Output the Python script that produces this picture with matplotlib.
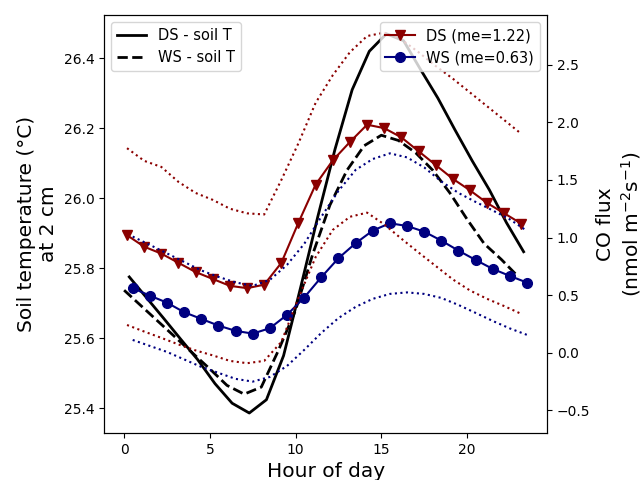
import numpy as np
import matplotlib
matplotlib.use("Agg")
import matplotlib.pyplot as plt

# hour of day for each series (different averaging offsets)
hrs_ds_t = np.arange(24) + 0.3
hrs_ws_t = np.arange(24) + 0.0
hrs_ds_f = np.arange(24) + 0.17
hrs_ws_f = np.arange(24) + 0.5

# soil temperature at 2 cm
ds_soil_t = [25.775, 25.716, 25.657, 25.597, 25.538, 25.47, 25.414, 25.386,
             25.424, 25.55, 25.746, 25.948, 26.14, 26.31, 26.42, 26.47,
             26.45, 26.367, 26.286, 26.195, 26.107, 26.024, 25.93, 25.847]
ws_soil_t = [25.737, 25.692, 25.647, 25.602, 25.557, 25.512, 25.465, 25.44,
             25.46, 25.565, 25.68, 25.84, 25.98, 26.08, 26.15, 26.18,
             26.165, 26.13, 26.08, 26.015, 25.94, 25.87, 25.825, 25.775]

# CO flux, mean and upper/lower bounds
ds_flux = [1.02, 0.92, 0.86, 0.78, 0.70, 0.64, 0.58, 0.56, 0.59, 0.78, 1.13, 1.46,
           1.67, 1.83, 1.98, 1.95, 1.87, 1.75, 1.63, 1.51, 1.41, 1.30, 1.21, 1.12]
ds_up = [1.776, 1.666, 1.613, 1.483, 1.387, 1.327, 1.25, 1.21, 1.20, 1.50, 1.82, 2.17,
         2.41, 2.61, 2.75, 2.78, 2.72, 2.61, 2.49, 2.38, 2.26, 2.14, 2.02, 1.90]
ds_lo = [0.24, 0.183, 0.128, 0.071, 0.019, -0.024, -0.072, -0.092, -0.072, 0.093,
         0.475, 0.83, 1.066, 1.18, 1.216, 1.114, 0.99, 0.87, 0.753, 0.636, 0.54,
         0.467, 0.404, 0.336]

ws_flux = [0.56, 0.495, 0.434, 0.351, 0.293, 0.235, 0.189, 0.165, 0.212, 0.328,
           0.478, 0.655, 0.82, 0.95, 1.06, 1.124, 1.10, 1.051, 0.973, 0.886, 0.805,
           0.727, 0.666, 0.608]
ws_up = [1.008, 0.936, 0.862, 0.788, 0.714, 0.658, 0.61, 0.58, 0.632, 0.762, 0.944,
         1.18, 1.405, 1.587, 1.682, 1.731, 1.696, 1.609, 1.487, 1.387, 1.309, 1.235,
         1.157, 1.057]
ws_lo = [0.11, 0.058, 0.006, -0.059, -0.124, -0.176, -0.228, -0.252, -0.211, -0.116,
         0.023, 0.171, 0.30, 0.397, 0.467, 0.51, 0.523, 0.51, 0.475, 0.414, 0.345,
         0.275, 0.21, 0.154]

fig = plt.figure(figsize=(6.43, 4.8), dpi=100)
ax1 = fig.add_axes([0.1617, 0.098, 0.851 - 0.1617, 0.969 - 0.098])
ax2 = ax1.twinx()

ax1.plot(hrs_ds_t, ds_soil_t, "k-", lw=2, label="DS - soil T")
ax1.plot(hrs_ws_t, ws_soil_t, "k--", lw=2, label="WS - soil T")
ax1.set_ylim(25.329, 26.524)
ax1.set_xlim(-1.175, 24.675)
ax1.set_xlabel("Hour of day", fontsize=14.5)
ax1.set_ylabel("Soil temperature (°C)\nat 2 cm", fontsize=14.5)
ax1.legend(loc="upper left", fontsize=10.5)

ax2.plot(hrs_ds_f, ds_flux, "-", color="darkred", marker="v", ms=7, lw=1.5,
         label="DS (me=%.2f)" % np.mean(ds_flux))
ax2.plot(hrs_ws_f, ws_flux, "-", color="navy", marker="o", ms=7, lw=1.5,
         label="WS (me=%.2f)" % np.mean(ws_flux))
ax2.plot(hrs_ds_f, ds_up, ":", color="darkred", lw=1.5)
ax2.plot(hrs_ds_f, ds_lo, ":", color="darkred", lw=1.5)
ax2.plot(hrs_ws_f, ws_up, ":", color="navy", lw=1.5)
ax2.plot(hrs_ws_f, ws_lo, ":", color="navy", lw=1.5)
ax2.set_ylim(-0.698, 2.934)
ax2.set_ylabel("CO flux\n(nmol m$^{-2}$s$^{-1}$)", fontsize=14.5)
ax2.legend(loc="upper right", fontsize=10.5)

fig.savefig("out.png", dpi=100)
